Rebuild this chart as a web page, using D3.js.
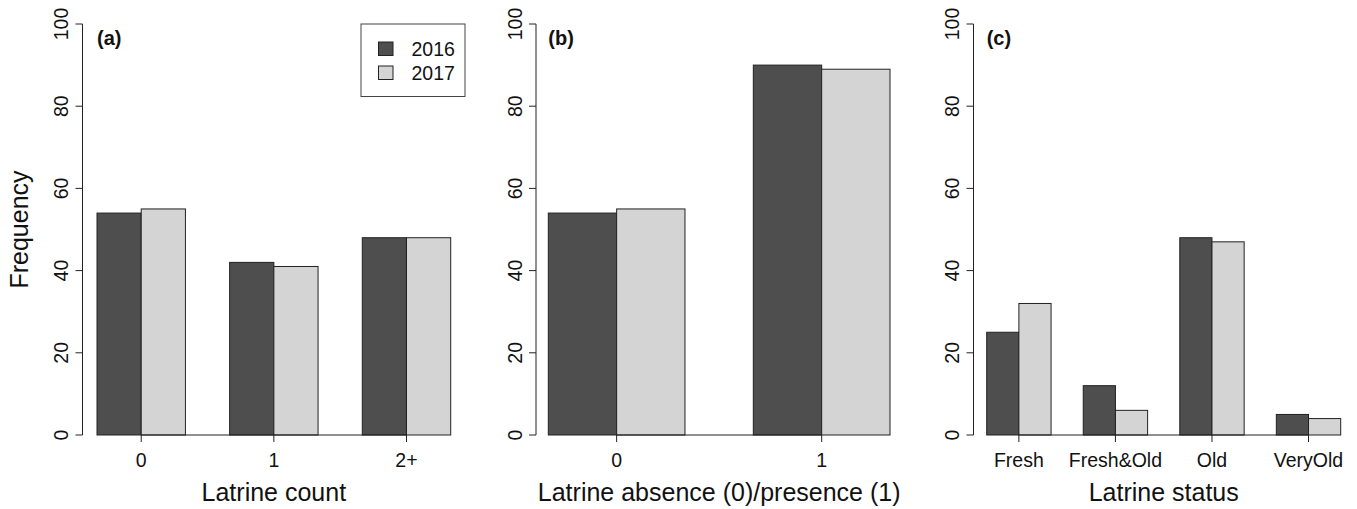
<!DOCTYPE html>
<html>
<head>
<meta charset="utf-8">
<script src="https://cdn.jsdelivr.net/npm/d3@7"></script>
<style>
  html, body { margin: 0; padding: 0; background: #fff; }
  svg { display: block; font-family: "Liberation Sans", Arial, sans-serif; }
</style>
</head>
<body>
<svg id="chart" width="1357" height="509"></svg>
<script>
// ---- data ----
const years = ["2016", "2017"];
const yTicks = [0, 20, 40, 60, 80, 100];

const catsA = ["0", "1", "2+"];
const vals2016A = [54, 42, 48];
const vals2017A = [55, 41, 48];

const catsB = ["0", "1"];
const vals2016B = [54, 90];
const vals2017B = [55, 89];

const catsC = ["Fresh", "Fresh&Old", "Old", "VeryOld"];
const vals2016C = [25, 12, 48, 5];
const vals2017C = [32, 6, 47, 4];

const panelLabels = ["(a)", "(b)", "(c)"];
const xTitles = ["Latrine count", "Latrine absence (0)/presence (1)", "Latrine status"];
const yTitle = "Frequency";

// ---- layout ----
const colors = ["#4e4e4e", "#d4d4d4"];
const stroke = "#222";
const svg = d3.select("#chart");
const y = d3.scaleLinear().domain([0, 100]).range([435, 24]);

const panels = [
  { cats: catsA, s: [vals2016A, vals2017A], axisX: 82.5, barL: 97, barR: 450.7 },
  { cats: catsB, s: [vals2016B, vals2017B], axisX: 536, barL: 548.3, barR: 890 },
  { cats: catsC, s: [vals2016C, vals2017C], axisX: 973.5, barL: 986.7, barR: 1340.7 }
];

panels.forEach((p, pi) => {
  const n = p.cats.length;
  // R barplot beside=TRUE, space=c(0,1): bars occupy units [1, 3n]
  const x = d3.scaleLinear().domain([1, 3 * n]).range([p.barL, p.barR]);
  const g = svg.append("g");

  // bars
  p.cats.forEach((c, i) => {
    p.s.forEach((vals, k) => {
      const x0 = 1 + 3 * i + k;
      g.append("rect")
        .attr("x", x(x0))
        .attr("y", y(vals[i]))
        .attr("width", x(x0 + 1) - x(x0))
        .attr("height", y(0) - y(vals[i]))
        .attr("fill", colors[k])
        .attr("stroke", stroke)
        .attr("stroke-width", 1);
    });
  });

  // x axis (line from first to last tick, ticks downward)
  const centers = p.cats.map((c, i) => 3 * i + 2);
  g.append("line")
    .attr("x1", x(centers[0])).attr("x2", x(centers[n - 1]))
    .attr("y1", y(0)).attr("y2", y(0))
    .attr("stroke", stroke).attr("stroke-width", 1);
  centers.forEach((cx, i) => {
    g.append("line")
      .attr("x1", x(cx)).attr("x2", x(cx))
      .attr("y1", y(0)).attr("y2", y(0) + 7)
      .attr("stroke", stroke).attr("stroke-width", 1);
    g.append("text")
      .attr("x", x(cx)).attr("y", 467)
      .attr("text-anchor", "middle")
      .attr("font-size", 19.5)
      .attr("fill", "#111")
      .text(p.cats[i]);
  });

  // y axis
  const yg = g.append("g").attr("transform", `translate(${p.axisX},0)`);
  yg.append("line").attr("x1", 0).attr("x2", 0).attr("y1", y(0)).attr("y2", y(100))
    .attr("stroke", stroke).attr("stroke-width", 1);
  yTicks.forEach(t => {
    yg.append("line").attr("x1", 0).attr("x2", -7).attr("y1", y(t)).attr("y2", y(t))
      .attr("stroke", stroke).attr("stroke-width", 1);
    yg.append("text")
      .attr("transform", `translate(-14.5,${y(t)}) rotate(-90)`)
      .attr("text-anchor", "middle")
      .attr("font-size", 19.5)
      .attr("fill", "#111")
      .text(t);
  });

  // panel label
  g.append("text")
    .attr("x", p.barL).attr("y", 45)
    .attr("font-size", 20).attr("font-weight", "bold")
    .attr("fill", "#111")
    .text(panelLabels[pi]);

  // x title, centred on plot region (bars extended by 4%)
  const ext = (p.barR - p.barL) * 0.04;
  g.append("text")
    .attr("x", (p.barL - ext + p.barR + ext) / 2).attr("y", 501)
    .attr("text-anchor", "middle")
    .attr("font-size", 25)
    .attr("fill", "#111")
    .text(xTitles[pi]);
});

// y title
svg.append("text")
  .attr("transform", `translate(28,${(y(0) + y(100)) / 2}) rotate(-90)`)
  .attr("text-anchor", "middle")
  .attr("font-size", 25)
  .attr("fill", "#111")
  .text(yTitle);

// legend
const lg = svg.append("g");
lg.append("rect").attr("x", 361).attr("y", 24).attr("width", 104).attr("height", 72.5)
  .attr("fill", "#fff").attr("stroke", "#444").attr("stroke-width", 1);
years.forEach((yr, k) => {
  const cy = 49 + k * 24;
  lg.append("rect").attr("x", 378.5).attr("y", cy - 7).attr("width", 14.5).attr("height", 13.5)
    .attr("fill", colors[k]).attr("stroke", stroke).attr("stroke-width", 1);
  lg.append("text").attr("x", 411.5).attr("y", cy + 7)
    .attr("font-size", 19.5).attr("fill", "#111").text(yr);
});
</script>
</body>
</html>
